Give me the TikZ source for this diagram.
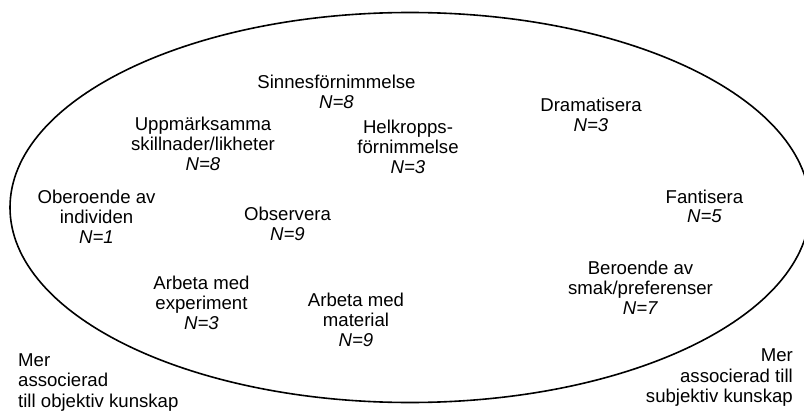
\documentclass[tikz,border=0pt]{standalone}
\usepackage{fontspec}
\setmainfont{Liberation Sans}
\begin{document}
\begin{tikzpicture}[x=1pt,y=-1pt,
  % anchor base = baseline of the last line of a block
  lbl/.style={align=center,anchor=base,inner sep=0pt,
    font=\fontsize{18.6}{19.8}\selectfont},
  side/.style={inner sep=0pt,font=\fontsize{18.6}{20.6}\selectfont},
  rim/.style={draw=black,line width=1.6pt}]
\useasboundingbox (0,0) rectangle (804,412);
\clip (0,0) rectangle (804,412);
% the outer field
\draw[rim] (410,207.5) ellipse [x radius=400, y radius=195];
% categories with their counts
\node[lbl] (sinnes) at (336.5,108.5) {Sinnesförnimmelse\\\textit{N=8}};
\node[lbl] (uppm)   at (203,170.5)   {Uppmärksamma\\skillnader/likheter\\\textit{N=8}};
\node[lbl] (helk)   at (408,173)     {Helkropps-\\förnimmelse\\\textit{N=3}};
\node[lbl] (drama)  at (591,131.5)   {Dramatisera\\\textit{N=3}};
\node[lbl] (ober)   at (96.5,243.5)  {Oberoende av\\individen\\\textit{N=1}};
\node[lbl] (obs)    at (287.5,240)   {Observera\\\textit{N=9}};
\node[lbl] (fant)   at (704.5,222.8) {Fantisera\\\textit{N=5}};
\node[lbl] (exper)  at (201.5,329)   {Arbeta med\\experiment\\\textit{N=3}};
\node[lbl] (mater)  at (356,346)     {Arbeta med\\material\\\textit{N=9}};
\node[lbl] (beroe)  at (640.5,314)   {Beroende av\\smak/preferenser\\\textit{N=7}};
% end points of the scale
\node[side,align=left,anchor=base west] (objek) at (18,407.5) {Mer\\associerad\\till objektiv kunskap};
\node[side,align=right,anchor=base east] (subjek) at (793,402.7) {Mer\\associerad till\\subjektiv kunskap};
\end{tikzpicture}
\end{document}
